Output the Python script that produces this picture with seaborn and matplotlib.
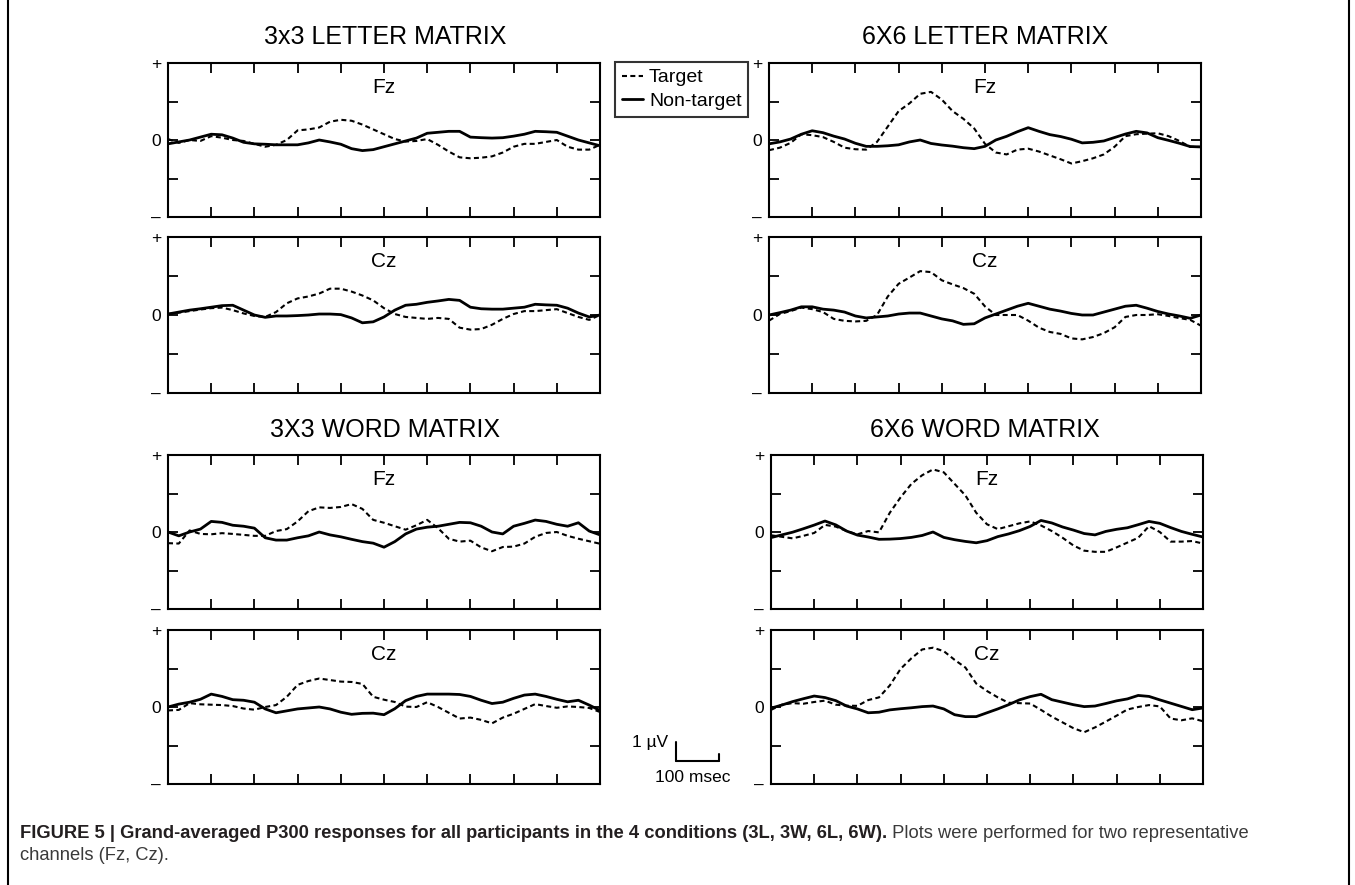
import numpy as np
import pandas as pd
import matplotlib
matplotlib.use("Agg")
import matplotlib.pyplot as plt
import seaborn as sns
from matplotlib.lines import Line2D

# ---------------- data (µV) ----------------
time_ms = list(range(0, 1001, 25))

l3_fz_target = [0.05, -0.15, 0.0, -0.05, 0.2, 0.12, 0.0, -0.05, -0.2, -0.35, -0.25, 0.0, 0.5, 0.55, 0.65,
                0.95, 1.05, 1.0, 0.8, 0.55, 0.3, 0.05, -0.08, -0.05, 0.05, -0.25, -0.6, -0.9, -0.95, -0.92,
                -0.85, -0.65, -0.35, -0.2, -0.2, -0.1, 0.0, -0.35, -0.5, -0.5, -0.25]
l3_fz_nontarget = [-0.2, -0.1, 0.0, 0.15, 0.3, 0.27, 0.1, -0.12, -0.2, -0.22, -0.25, -0.25, -0.25, -0.15, 0.0,
                   -0.1, -0.22, -0.45, -0.55, -0.5, -0.35, -0.2, -0.05, 0.1, 0.35, 0.4, 0.45, 0.45, 0.15, 0.12,
                   0.1, 0.12, 0.2, 0.3, 0.45, 0.43, 0.4, 0.2, 0.0, -0.15, -0.3]

l3_cz_target = [0.05, 0.12, 0.2, 0.28, 0.35, 0.38, 0.25, 0.08, -0.05, -0.1, 0.15, 0.6, 0.85, 0.95, 1.1,
                1.35, 1.35, 1.2, 1.0, 0.75, 0.35, 0.05, -0.1, -0.15, -0.2, -0.15, -0.2, -0.65, -0.75, -0.72,
                -0.5, -0.2, 0.05, 0.2, 0.2, 0.25, 0.3, 0.1, -0.1, -0.25, 0.0]
l3_cz_nontarget = [0.05, 0.15, 0.25, 0.32, 0.4, 0.48, 0.5, 0.25, 0.0, -0.12, -0.05, -0.05, -0.03, 0.0, 0.05,
                   0.05, 0.02, -0.15, -0.4, -0.35, -0.1, 0.25, 0.5, 0.55, 0.65, 0.72, 0.8, 0.75, 0.4, 0.32,
                   0.3, 0.3, 0.35, 0.4, 0.55, 0.52, 0.5, 0.35, 0.1, -0.1, 0.0]

w3_fz_target = [-0.58, -0.6, 0.08, -0.1, -0.12, -0.06, -0.1, -0.15, -0.2, -0.2, 0.05, 0.15, 0.55, 1.08, 1.28,
                1.25, 1.3, 1.45, 1.2, 0.63, 0.48, 0.3, 0.12, 0.35, 0.63, 0.2, -0.35, -0.5, -0.45, -0.8,
                -1.0, -0.78, -0.76, -0.6, -0.25, -0.05, 0.0, -0.2, -0.35, -0.48, -0.61]
w3_fz_nontarget = [0.0, -0.2, 0.0, 0.15, 0.55, 0.5, 0.35, 0.3, 0.2, -0.3, -0.42, -0.42, -0.3, -0.2, 0.0,
                   -0.15, -0.25, -0.38, -0.5, -0.58, -0.79, -0.5, -0.1, 0.15, 0.25, 0.3, 0.4, 0.5, 0.48, 0.3,
                   0.0, -0.1, 0.3, 0.45, 0.62, 0.55, 0.4, 0.3, 0.48, 0.05, -0.15]

w3_cz_target = [-0.18, -0.15, 0.2, 0.14, 0.12, 0.1, 0.05, -0.08, -0.14, 0.0, 0.1, 0.53, 1.15, 1.35, 1.48,
                1.4, 1.32, 1.3, 1.2, 0.53, 0.38, 0.26, 0.02, 0.0, 0.25, 0.0, -0.3, -0.6, -0.55, -0.67,
                -0.85, -0.55, -0.35, -0.1, 0.15, 0.05, -0.04, 0.03, 0.0, -0.05, -0.26]
w3_cz_nontarget = [0.0, 0.15, 0.25, 0.4, 0.67, 0.55, 0.38, 0.35, 0.25, -0.1, -0.3, -0.2, -0.1, -0.05, 0.0,
                   -0.1, -0.27, -0.38, -0.33, -0.32, -0.4, -0.09, 0.33, 0.55, 0.67, 0.67, 0.67, 0.65, 0.55, 0.35,
                   0.18, 0.25, 0.45, 0.62, 0.67, 0.55, 0.4, 0.27, 0.35, 0.1, -0.18]

l6_fz_target = [-0.53, -0.4, -0.15, 0.3, 0.25, 0.15, -0.1, -0.4, -0.48, -0.5, -0.1, 0.7, 1.5, 1.9, 2.4,
                2.5, 2.1, 1.5, 1.1, 0.6, -0.2, -0.65, -0.75, -0.5, -0.45, -0.6, -0.8, -1.0, -1.22, -1.1,
                -0.95, -0.75, -0.35, 0.2, 0.3, 0.33, 0.35, 0.2, -0.05, -0.36, -0.36]
l6_fz_nontarget = [-0.2, -0.1, 0.05, 0.3, 0.48, 0.38, 0.2, 0.05, -0.17, -0.33, -0.33, -0.3, -0.25, -0.1, 0.0,
                   -0.18, -0.26, -0.32, -0.4, -0.45, -0.33, 0.0, 0.19, 0.43, 0.64, 0.45, 0.28, 0.18, 0.04, -0.15,
                   -0.12, -0.05, 0.13, 0.31, 0.45, 0.37, 0.12, -0.02, -0.17, -0.34, -0.36]

l6_cz_target = [-0.29, 0.05, 0.2, 0.38, 0.3, 0.15, -0.2, -0.3, -0.33, -0.3, 0.0, 0.95, 1.6, 1.92, 2.25,
                2.2, 1.78, 1.57, 1.38, 1.09, 0.44, 0.0, 0.0, 0.0, -0.29, -0.65, -0.87, -0.97, -1.2, -1.25,
                -1.13, -0.93, -0.63, -0.1, 0.0, 0.0, 0.04, -0.05, -0.16, -0.25, -0.55]
l6_cz_nontarget = [0.0, 0.12, 0.25, 0.42, 0.42, 0.3, 0.25, 0.15, -0.05, -0.15, -0.1, -0.05, 0.05, 0.1, 0.1,
                   -0.05, -0.2, -0.3, -0.48, -0.45, -0.15, 0.05, 0.25, 0.45, 0.6, 0.45, 0.3, 0.2, 0.08, 0.0,
                   0.0, 0.15, 0.3, 0.45, 0.5, 0.35, 0.18, 0.05, -0.05, -0.17, 0.0]

w6_fz_target = [-0.17, -0.25, -0.33, -0.2, -0.05, 0.37, 0.28, 0.05, -0.12, 0.05, -0.02, 1.0, 1.8, 2.5, 2.95,
                3.25, 3.1, 2.5, 1.9, 1.0, 0.4, 0.15, 0.3, 0.45, 0.55, 0.34, 0.05, -0.3, -0.7, -0.97,
                -1.03, -1.03, -0.8, -0.55, -0.3, 0.3, 0.0, -0.5, -0.5, -0.47, -0.6]
w6_fz_nontarget = [-0.29, -0.15, -0.01, 0.17, 0.36, 0.57, 0.37, 0.05, -0.16, -0.26, -0.38, -0.37, -0.34, -0.28, -0.18,
                   0.0, -0.28, -0.4, -0.49, -0.56, -0.45, -0.24, -0.1, 0.07, 0.29, 0.6, 0.47, 0.26, 0.1, -0.08,
                   -0.15, 0.03, 0.14, 0.22, 0.38, 0.55, 0.45, 0.23, 0.03, -0.12, -0.26]

w6_cz_target = [-0.15, 0.12, 0.2, 0.17, 0.26, 0.33, 0.12, 0.07, 0.06, 0.36, 0.5, 1.12, 1.98, 2.53, 2.99,
                3.08, 2.9, 2.45, 2.05, 1.22, 0.83, 0.5, 0.22, 0.2, 0.18, -0.15, -0.5, -0.8, -1.1, -1.31,
                -1.06, -0.76, -0.45, -0.13, 0.0, 0.1, 0.03, -0.6, -0.69, -0.59, -0.74]
w6_cz_nontarget = [-0.06, 0.1, 0.28, 0.43, 0.57, 0.49, 0.33, 0.05, -0.1, -0.3, -0.27, -0.15, -0.09, -0.04, 0.02,
                   0.05, -0.1, -0.4, -0.5, -0.5, -0.3, -0.1, 0.12, 0.37, 0.54, 0.66, 0.38, 0.25, 0.12, 0.02,
                   0.05, 0.18, 0.32, 0.42, 0.6, 0.55, 0.37, 0.2, 0.03, -0.14, -0.05]

group_titles = ["3x3 LETTER MATRIX", "6X6 LETTER MATRIX", "3X3 WORD MATRIX", "6X6 WORD MATRIX"]
channels = ["Fz", "Cz"]
series_labels = ["Target", "Non-target"]
y_tick_values = [-4, -2, 0, 2, 4]
y_tick_labels = ["\u2013", "", "0", "", "+"]
x_tick_values = list(range(0, 1001, 100))

# ---------------- style ----------------
sns.set_style("white")
plt.rcParams.update({
    "font.family": ["Liberation Sans", "DejaVu Sans"],
    "axes.edgecolor": "black",
    "xtick.color": "black",
    "ytick.color": "black",
    "text.color": "black",
    "axes.linewidth": 1.5,
})

W, H = 1355, 885
fig = plt.figure(figsize=(W / 100, H / 100), dpi=100)
fig.patch.set_facecolor("white")


def px_axes(left, top, right, bottom):
    return fig.add_axes([left / W, 1 - bottom / H, (right - left) / W, (bottom - top) / H])


panels = [
    # (target, nontarget, channel, (left, top, right, bottom))
    (l3_fz_target, l3_fz_nontarget, channels[0], (168, 63, 600, 217)),
    (l3_cz_target, l3_cz_nontarget, channels[1], (168, 237, 600, 393)),
    (w3_fz_target, w3_fz_nontarget, channels[0], (168, 455, 600, 609)),
    (w3_cz_target, w3_cz_nontarget, channels[1], (168, 630, 600, 784)),
    (l6_fz_target, l6_fz_nontarget, channels[0], (769, 63, 1201, 217)),
    (l6_cz_target, l6_cz_nontarget, channels[1], (769, 237, 1201, 393)),
    (w6_fz_target, w6_fz_nontarget, channels[0], (771, 455, 1203, 609)),
    (w6_cz_target, w6_cz_nontarget, channels[1], (771, 630, 1203, 784)),
]

handles = None
for tgt, ntg, ch, box in panels:
    ax = px_axes(*box)
    df = pd.DataFrame({"time": time_ms * 2, "uV": tgt + ntg,
                       "cond": [series_labels[0]] * len(time_ms) + [series_labels[1]] * len(time_ms)})
    sns.lineplot(data=df[df.cond == series_labels[0]], x="time", y="uV", ax=ax, color="black",
                 linewidth=1.5, linestyle=(0, (2.4, 1.6)))
    sns.lineplot(data=df[df.cond == series_labels[1]], x="time", y="uV", ax=ax, color="black",
                 linewidth=2.0, linestyle="-")
    ax.set_xlim(0, 1000)
    ax.set_ylim(-4, 4)
    ax.set_xticks(x_tick_values)
    ax.set_xticklabels([])
    ax.set_yticks(y_tick_values)
    ax.set_yticklabels(y_tick_labels)
    ax.tick_params(direction="in", length=7, width=1.3, top=True, right=True, bottom=True, left=True,
                   labelsize=12.5, pad=5)
    ax.set_xlabel("")
    ax.set_ylabel("")
    for s in ax.spines.values():
        s.set_visible(True)
        s.set_linewidth(1.5)
        s.set_color("black")
    ax.text(0.5, 0.84, ch, transform=ax.transAxes, ha="center", va="center", fontsize=15)
    if handles is None:
        handles = [ax.lines[0], ax.lines[1]]

# group titles
title_pos = [(385, 37), (985, 37), (385, 430), (985, 430)]
for t, (x, y) in zip(group_titles, title_pos):
    fig.text(x / W, 1 - y / H, t, ha="center", va="center", fontsize=18)

# legend
leg = fig.legend(handles, series_labels, loc="upper left", bbox_to_anchor=(615 / W, 1 - 62 / H),
                 frameon=True, fancybox=False, edgecolor="black", fontsize=14, handlelength=1.1,
                 handletextpad=0.3, borderpad=0.35, labelspacing=0.3, borderaxespad=0)
leg.get_frame().set_linewidth(1.5)


# scale bar (1 µV / 100 msec)
def fx(x):
    return x / W


def fy(y):
    return 1 - y / H


fig.add_artist(Line2D([fx(676), fx(676)], [fy(742), fy(761)], color="black", lw=1.5))
fig.add_artist(Line2D([fx(676), fx(719)], [fy(761), fy(761)], color="black", lw=1.5))
fig.add_artist(Line2D([fx(719), fx(719)], [fy(761), fy(754)], color="black", lw=1.5))
fig.text(fx(668), fy(743), "1 \u00b5V", ha="right", va="center", fontsize=12.5)
fig.text(fx(693), fy(777), "100 msec", ha="center", va="center", fontsize=12.5)

# frame lines
fig.add_artist(Line2D([fx(8), fx(8)], [0, 1], color="black", lw=1.5))
fig.add_artist(Line2D([fx(1349), fx(1349)], [0, 1], color="black", lw=1.5))

# caption
renderer = fig.canvas.get_renderer()
bold_part = "FIGURE 5 | Grand-averaged P300 responses for all participants in the 4 conditions (3L, 3W, 6L, 6W)."
normal_part = " Plots were performed for two representative"
t1 = fig.text(fx(20), fy(834), bold_part, fontweight="bold", fontsize=13.2, va="center", color="#231f20")
bb = t1.get_window_extent(renderer=renderer)
fig.text(bb.x1 / W, fy(834), normal_part, fontsize=13.2, va="center", color="#3a3a3a")
fig.text(fx(20), fy(856), "channels (Fz, Cz).", fontsize=13.2, va="center", color="#3a3a3a")

fig.savefig("out.png", dpi=100, facecolor="white")
